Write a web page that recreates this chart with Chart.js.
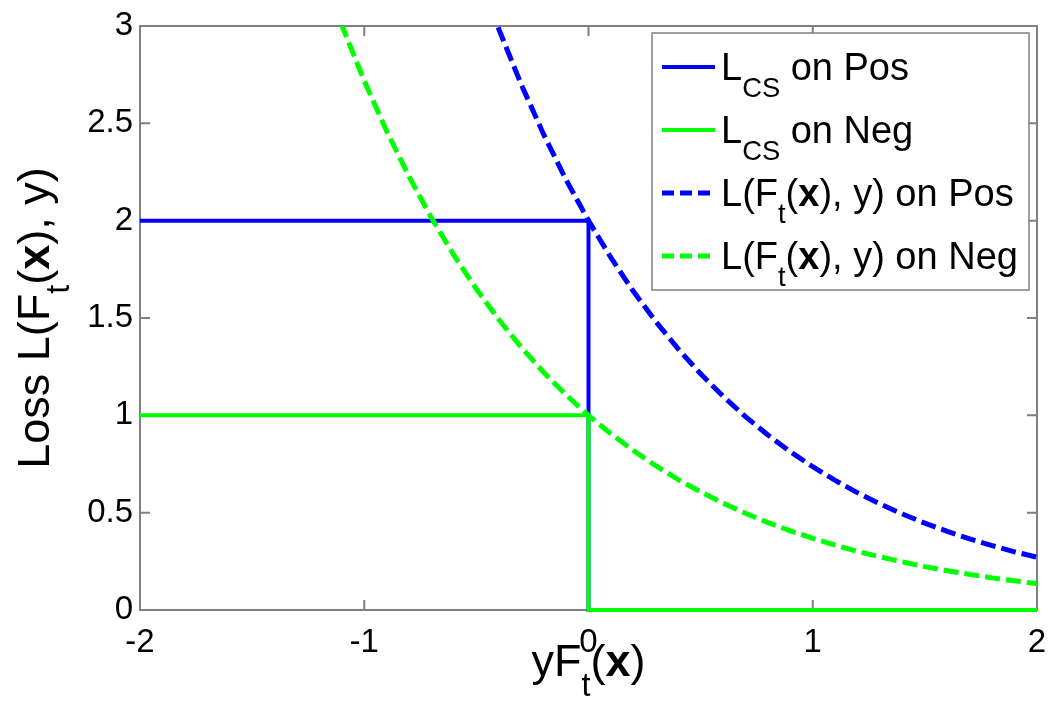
<!DOCTYPE html>
<html>
<head>
<meta charset="utf-8">
<script src="https://cdn.jsdelivr.net/npm/chart.js@4.4.1/dist/chart.umd.min.js"></script>
<style>
  html, body { margin: 0; padding: 0; background: #fff; }
  #wrap { width: 1049px; height: 714px; }
</style>
</head>
<body>
<div id="wrap"><canvas id="lossChart"></canvas></div>
<script>
// step losses (cost-sensitive)
const stepX = [-2, 0, 0, 2];
const posStep = [2, 2, 0, 0];
const negStep = [1, 1, 0, 0];

// exponential losses
const curveX = [-1.2, -1.1, -1.0, -0.9, -0.8, -0.7, -0.6, -0.5, -0.4, -0.3, -0.2, -0.1, 0,
  0.1, 0.2, 0.3, 0.4, 0.5, 0.6, 0.7, 0.8, 0.9, 1.0, 1.1, 1.2, 1.3, 1.4, 1.5, 1.6, 1.7, 1.8, 1.9, 2.0];
const posCurve = [null, null, null, null, null, null, null, 3.297, 2.984, 2.700, 2.443, 2.210, 2.000,
  1.810, 1.637, 1.482, 1.341, 1.213, 1.098, 0.993, 0.899, 0.813, 0.736, 0.666, 0.602, 0.545, 0.493,
  0.446, 0.404, 0.365, 0.331, 0.299, 0.271];
const negCurve = [3.320, 3.004, 2.718, 2.460, 2.226, 2.014, 1.822, 1.649, 1.492, 1.350, 1.221, 1.105, 1.000,
  0.905, 0.819, 0.741, 0.670, 0.607, 0.549, 0.497, 0.449, 0.407, 0.368, 0.333, 0.301, 0.273, 0.247,
  0.223, 0.202, 0.183, 0.165, 0.150, 0.135];

const xTickLabels = ["-2", "-1", "0", "1", "2"];
const yTickLabels = ["0", "0.5", "1", "1.5", "2", "2.5", "3"];

// text runs: sub = subscript, b = bold
const legendLabels = [
  [{ t: "L" }, { t: "CS", sub: true }, { t: " on Pos" }],
  [{ t: "L" }, { t: "CS", sub: true }, { t: " on Neg" }],
  [{ t: "L(F" }, { t: "t", sub: true }, { t: "(" }, { t: "x", b: true }, { t: "), y) on Pos" }],
  [{ t: "L(F" }, { t: "t", sub: true }, { t: "(" }, { t: "x", b: true }, { t: "), y) on Neg" }],
];
const xTitle = [{ t: "yF" }, { t: "t", sub: true }, { t: "(" }, { t: "x", b: true }, { t: ")" }];
const yTitle = [{ t: "Loss L(F" }, { t: "t", sub: true }, { t: "(" }, { t: "x", b: true }, { t: "), y)" }];

const BLUE = "#0000ff";
const GREEN = "#00ff00";
const FONT = "'Liberation Sans', Arial, Helvetica, sans-serif";
const DASH = [15, 6];

function runFont(r, size) {
  const s = r.sub ? size * 0.72 : size;
  return (r.b ? "bold " : "") + s + "px " + FONT;
}

function runsWidth(ctx, runs, size) {
  let w = 0;
  runs.forEach((r) => {
    ctx.font = runFont(r, size);
    w += ctx.measureText(r.t).width;
  });
  return w;
}

function drawRuns(ctx, runs, x, y, size) {
  ctx.textBaseline = "alphabetic";
  ctx.textAlign = "left";
  ctx.fillStyle = "#000";
  runs.forEach((r) => {
    ctx.font = runFont(r, size);
    ctx.fillText(r.t, x, r.sub ? y + size * 0.44 : y);
    x += ctx.measureText(r.t).width;
  });
}

const matlabLook = {
  id: "matlabLook",
  beforeDatasetsDraw(chart) {
    const { ctx, chartArea: a, scales } = chart;
    ctx.save();
    ctx.strokeStyle = "#808080";
    ctx.lineWidth = 2;
    ctx.strokeRect(a.left, a.top, a.right - a.left, a.bottom - a.top);
    const tl = 10;
    ctx.beginPath();
    scales.x.ticks.forEach((t) => {
      const px = scales.x.getPixelForValue(t.value);
      ctx.moveTo(px, a.bottom); ctx.lineTo(px, a.bottom - tl);
      ctx.moveTo(px, a.top); ctx.lineTo(px, a.top + tl);
    });
    scales.y.ticks.forEach((t) => {
      const py = scales.y.getPixelForValue(t.value);
      ctx.moveTo(a.left, py); ctx.lineTo(a.left + tl, py);
      ctx.moveTo(a.right, py); ctx.lineTo(a.right - tl, py);
    });
    ctx.stroke();
    ctx.restore();
  },
  afterDraw(chart) {
    const { ctx, chartArea: a } = chart;
    ctx.save();

    // axis titles
    const ts = 45;
    const xw = runsWidth(ctx, xTitle, ts);
    drawRuns(ctx, xTitle, (a.left + a.right) / 2 - xw / 2, 676, ts);

    ctx.translate(49, (a.top + a.bottom) / 2);
    ctx.rotate(-Math.PI / 2);
    const yw = runsWidth(ctx, yTitle, ts);
    drawRuns(ctx, yTitle, -yw / 2, 0, ts);
    ctx.setTransform(1, 0, 0, 1, 0, 0);

    // legend
    const lx = 652, ly = 33, lw = 377, lh = 257;
    ctx.fillStyle = "#fff";
    ctx.fillRect(lx, ly, lw, lh);
    ctx.strokeStyle = "#808080";
    ctx.lineWidth = 1.5;
    ctx.strokeRect(lx, ly, lw, lh);
    const styles = [
      { c: BLUE, dash: false }, { c: GREEN, dash: false },
      { c: BLUE, dash: true }, { c: GREEN, dash: true },
    ];
    legendLabels.forEach((runs, i) => {
      const cy = 67 + i * 63;
      ctx.strokeStyle = styles[i].c;
      ctx.lineWidth = styles[i].dash ? 5 : 4;
      ctx.setLineDash(styles[i].dash ? [12, 6] : []);
      ctx.beginPath();
      ctx.moveTo(662, cy); ctx.lineTo(715, cy);
      ctx.stroke();
      ctx.setLineDash([]);
      drawRuns(ctx, runs, 721, cy + 13, 38);
    });
    ctx.restore();
  },
};

new Chart(document.getElementById("lossChart"), {
  type: "line",
  data: {
    datasets: [
      {
        label: "LCS on Pos",
        data: stepX.map((x, i) => ({ x, y: posStep[i] })),
        borderColor: BLUE, borderWidth: 4, pointRadius: 0, order: 4, clip: 4,
      },
      {
        label: "LCS on Neg",
        data: stepX.map((x, i) => ({ x, y: negStep[i] })),
        borderColor: GREEN, borderWidth: 4, pointRadius: 0, order: 3, clip: 4,
      },
      {
        label: "L(Ft(x), y) on Pos",
        data: curveX.map((x, i) => ({ x, y: posCurve[i] })),
        borderColor: BLUE, borderWidth: 5, borderDash: DASH, pointRadius: 0, order: 2,
      },
      {
        label: "L(Ft(x), y) on Neg",
        data: curveX.map((x, i) => ({ x, y: negCurve[i] })),
        borderColor: GREEN, borderWidth: 5, borderDash: DASH, pointRadius: 0, order: 1,
      },
    ],
  },
  options: {
    responsive: true,
    maintainAspectRatio: false,
    animation: false,
    layout: { padding: { top: 26, right: 12, left: 0, bottom: 0 } },
    plugins: { legend: { display: false }, tooltip: { enabled: false } },
    scales: {
      x: {
        type: "linear", min: -2, max: 2,
        afterFit: (s) => { s.height = 104; s.paddingLeft = 0; s.paddingRight = 0; },
        ticks: {
          stepSize: 1, color: "#000", padding: 13, maxRotation: 0,
          font: { size: 33, family: FONT },
          callback: (v, i) => xTickLabels[i],
        },
        grid: { display: false, drawTicks: false },
        border: { display: false },
      },
      y: {
        type: "linear", min: 0, max: 3,
        afterFit: (s) => { s.width = 140; s.paddingTop = 0; s.paddingBottom = 0; },
        ticks: {
          stepSize: 0.5, color: "#000", padding: 7,
          font: { size: 33, family: FONT },
          callback: (v, i) => yTickLabels[i],
        },
        grid: { display: false, drawTicks: false },
        border: { display: false },
      },
    },
  },
  plugins: [matlabLook],
});
</script>
</body>
</html>
